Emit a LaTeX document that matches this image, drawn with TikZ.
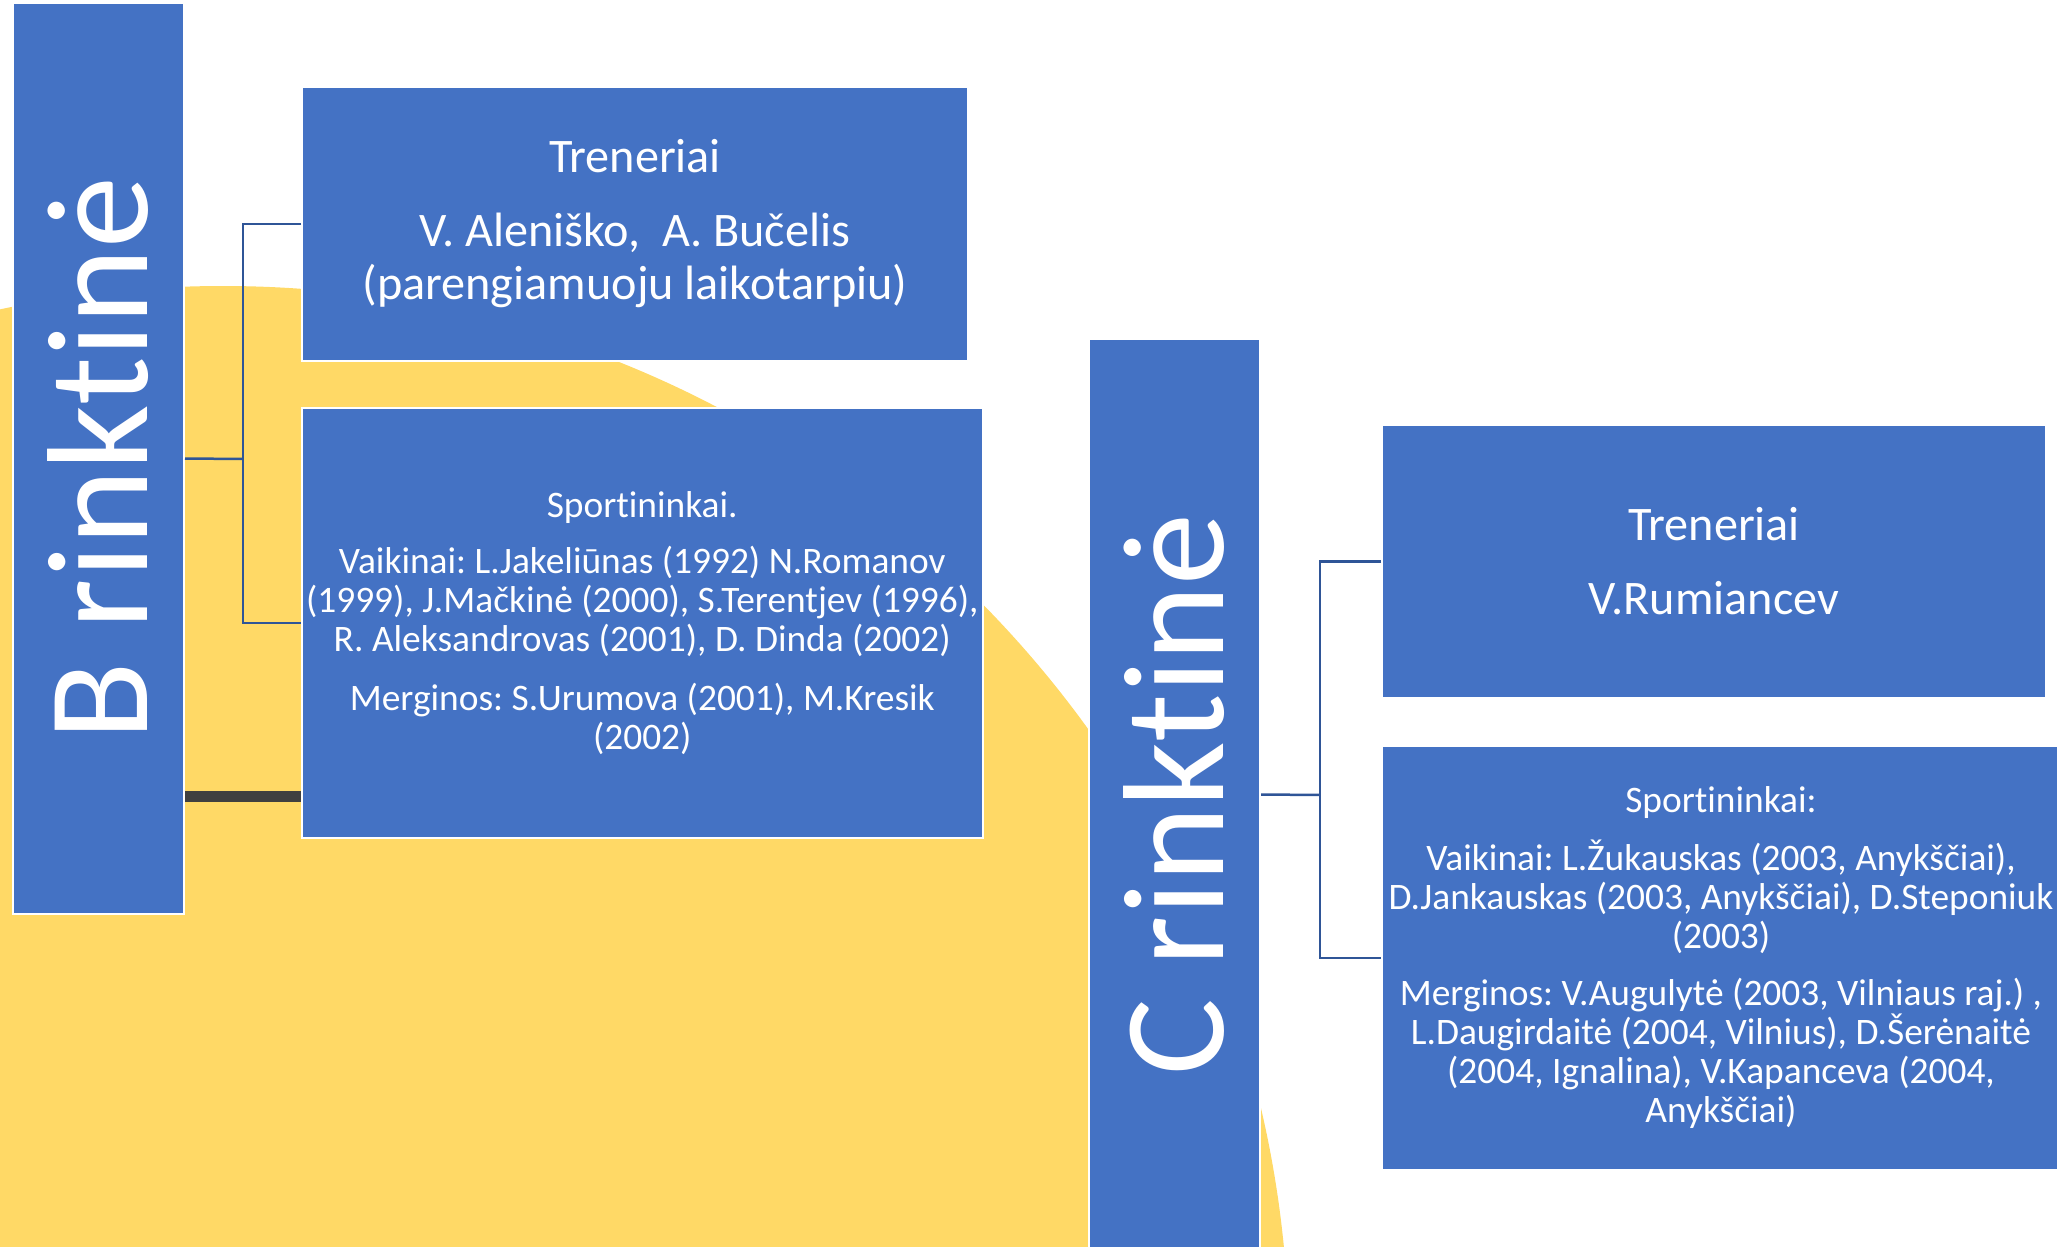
\documentclass[tikz,border=0pt]{standalone}
\usepackage{fontspec}
\setmainfont{Carlito}[Ligatures={NoCommon}]
\usepackage{xcolor}
\usepackage{tikz}
\usetikzlibrary{positioning}

\definecolor{barblue}{HTML}{4472C4}
\definecolor{linkblue}{HTML}{2F5597}
\definecolor{stubgray}{HTML}{404040}
\definecolor{sungold}{HTML}{FFD966}

\frenchspacing

\begin{document}
\begin{tikzpicture}[
    x=0.5pt, y=-0.5pt,
    bar/.style={rectangle, fill=barblue, draw=white, line width=1pt, minimum width=85.5pt, minimum height=455.5pt},
    bartext/.style={rotate=90, text=white, inner sep=0pt, font=\fontsize{72}{80}\selectfont},
    box/.style={rectangle, fill=barblue, draw=white, line width=1pt, anchor=north west, align=center, text=white, inner sep=2pt},
    coach/.style={box, font=\fontsize{24.1}{26.5}\selectfont},
    athletes/.style={box, font=\fontsize{18.7}{19.5}\selectfont},
    link/.style={draw=linkblue, line width=1.25pt},
    stub/.style={draw=stubgray, line width=5.5pt}
]
    \useasboundingbox (0,0) rectangle (2057,1247);
    \clip (0,0) rectangle (2057,1247);

    \fill[sungold] (223,1352) circle[radius=533pt];

    \node[bar] (barB) at (98.5,458.5) {};
    \node[bartext] (labelB) at (barB) {B rinktinė};

    \node[coach, minimum width=333pt, minimum height=137pt] (coachB) at (301,86)
        {Treneriai\\[10.5pt] V. Aleniško, \ A. Bučelis\\ (parengiamuoju laikotarpiu)};
    \node[athletes, below=22.5pt of coachB.south west, anchor=north west, minimum width=339.5pt, minimum height=215pt] (athB)
        {Sportininkai.\\[8.5pt]
         Vaikinai: L.Jakeliūnas (1992) N.Romanov\\
         (1999), J.Mačkinė (2000), S.Terentjev (1996),\\
         R. Aleksandrovas (2001), D. Dinda (2002)\\[10pt]
         Merginos: S.Urumova (2001), M.Kresik\\
         (2002)};

    \node[bar] (barC) at (1174.5,794.5) {};
    \node[bartext] (labelC) at (barC) {C rinktinė};

    \node[coach, minimum width=332pt, minimum height=136.5pt] (coachC) at (1381,424)
        {Treneriai\\[10.5pt] V.Rumiancev};
    \node[athletes, below=23pt of coachC.south west, anchor=north west, minimum width=339pt, minimum height=212pt] (athC)
        {Sportininkai:\\[9.5pt]
         Vaikinai: L.Žukauskas (2003, Anykščiai),\\
         D.Jankauskas (2003, Anykščiai), D.Steponiuk\\
         (2003)\\[9pt]
         Merginos: V.Augulytė (2003, Vilniaus raj.) ,\\
         L.Daugirdaitė (2004, Vilnius), D.Šerėnaitė\\
         (2004, Ignalina), V.Kapanceva (2004,\\
         Anykščiai)};

    \coordinate (forkB) at (243,459);
    \coordinate (forkC) at (1320,795);
    \coordinate (stubB) at (0,796);

    \draw[link] (barB.east) -- (forkB);
    \draw[link] (coachB.west) -| (forkB) |- (athB.west);
    \draw[stub] (barB.east |- stubB) -- (athB.west |- stubB);

    \draw[link] (barC.east) -- (forkC);
    \draw[link] (coachC.west) -| (forkC) |- (athC.west);
\end{tikzpicture}
\end{document}
